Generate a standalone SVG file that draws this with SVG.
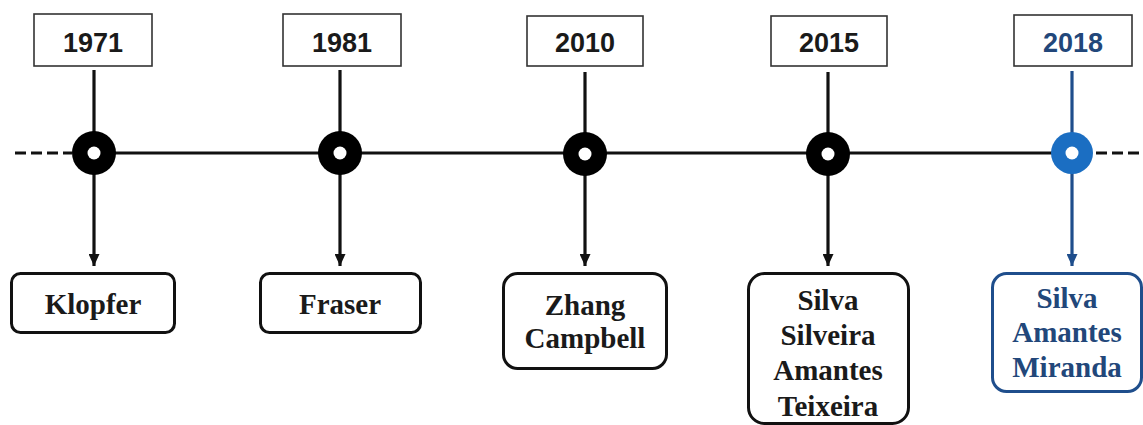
<svg xmlns="http://www.w3.org/2000/svg" width="1143" height="425" viewBox="0 0 1143 425">
<style>
.yr{fill:#fff;stroke:#333;stroke-width:1.6}
.yt{font-family:"Liberation Sans",Arial,sans-serif;font-weight:bold;font-size:27px;text-anchor:middle;fill:#1a1a1a}
.nb{fill:#fff;stroke:#111;stroke-width:3}
.nt{font-family:"Liberation Serif","Times New Roman",serif;font-weight:bold;font-size:29px;text-anchor:middle;fill:#1a1a1a}
.ln{stroke:#111;stroke-width:3.2;fill:none}
.blue .yt{fill:#22477a}
.blue .nb{stroke:#1f4e8c}
.blue .nt{fill:#22477a}
</style>
<defs>
<marker id="ah" markerWidth="12" markerHeight="11" refX="12" refY="5.5" orient="auto" markerUnits="userSpaceOnUse"><path d="M0,0 L12,5.5 L0,11 z" fill="#111"/></marker>
<marker id="ahb" markerWidth="12" markerHeight="11" refX="12" refY="5.5" orient="auto" markerUnits="userSpaceOnUse"><path d="M0,0 L12,5.5 L0,11 z" fill="#1f4e8c"/></marker>
</defs>
<g id="connectors">
<line x1="15" y1="153" x2="72" y2="153" class="ln" stroke-dasharray="11,5"/>
<line x1="94" y1="153" x2="1072" y2="153" class="ln"/>
<line x1="1096" y1="153" x2="1143" y2="153" class="ln" stroke-dasharray="11,5"/>
<line x1="94" y1="70" x2="94" y2="266" class="ln" marker-end="url(#ah)"/>
<line x1="340" y1="70" x2="340" y2="266" class="ln" marker-end="url(#ah)"/>
<line x1="585" y1="72" x2="585" y2="266" class="ln" marker-end="url(#ah)"/>
<line x1="828" y1="72" x2="828" y2="266" class="ln" marker-end="url(#ah)"/>
<line x1="1072" y1="71" x2="1072" y2="266" stroke="#1f4e8c" stroke-width="3.2" marker-end="url(#ahb)"/>
</g>
<g id="dot1971"><circle cx="94" cy="153" r="22" fill="#000"/><circle cx="94" cy="153" r="6.5" fill="#fff"/></g>
<g id="dot1981"><circle cx="340" cy="153" r="22" fill="#000"/><circle cx="340" cy="153" r="6.5" fill="#fff"/></g>
<g id="dot2010"><circle cx="585" cy="154" r="22" fill="#000"/><circle cx="585" cy="154" r="6.5" fill="#fff"/></g>
<g id="dot2015"><circle cx="828" cy="154" r="22" fill="#000"/><circle cx="828" cy="154" r="6.5" fill="#fff"/></g>
<g id="dot2018"><circle cx="1072" cy="153" r="21" fill="#1b6ec2"/><circle cx="1072" cy="153" r="6.5" fill="#fff"/></g>
<g id="y1971"><rect class="yr" x="34" y="14" width="118" height="52"/><text class="yt" x="93" y="52">1971</text></g>
<g id="y1981"><rect class="yr" x="283" y="14" width="118" height="52"/><text class="yt" x="342" y="52">1981</text></g>
<g id="y2010"><rect class="yr" x="527" y="16" width="116" height="50"/><text class="yt" x="585" y="52">2010</text></g>
<g id="y2015"><rect class="yr" x="771" y="16" width="116" height="50"/><text class="yt" x="829" y="52">2015</text></g>
<g id="y2018" class="blue"><rect class="yr" x="1014" y="15" width="118" height="51"/><text class="yt" x="1073" y="52">2018</text></g>
<g id="n1971"><rect class="nb" x="11.5" y="273.5" width="163" height="59" rx="9"/><text class="nt" x="93" y="314">Klopfer</text></g>
<g id="n1981"><rect class="nb" x="260.5" y="273.5" width="160" height="59" rx="9"/><text class="nt" x="340" y="314">Fraser</text></g>
<g id="n2010"><rect class="nb" x="503.5" y="273.5" width="163" height="95" rx="14"/><text class="nt" x="585" y="315">Zhang</text><text class="nt" x="585" y="348">Campbell</text></g>
<g id="n2015"><rect class="nb" x="748.5" y="273.5" width="160" height="150" rx="16"/><text class="nt" x="828" y="310">Silva</text><text class="nt" x="828" y="345">Silveira</text><text class="nt" x="828" y="380">Amantes</text><text class="nt" x="828" y="416">Teixeira</text></g>
<g id="n2018" class="blue"><rect class="nb" x="992.5" y="273.5" width="149" height="118" rx="14"/><text class="nt" x="1067" y="308">Silva</text><text class="nt" x="1067" y="342">Amantes</text><text class="nt" x="1067" y="377">Miranda</text></g>
</svg>
